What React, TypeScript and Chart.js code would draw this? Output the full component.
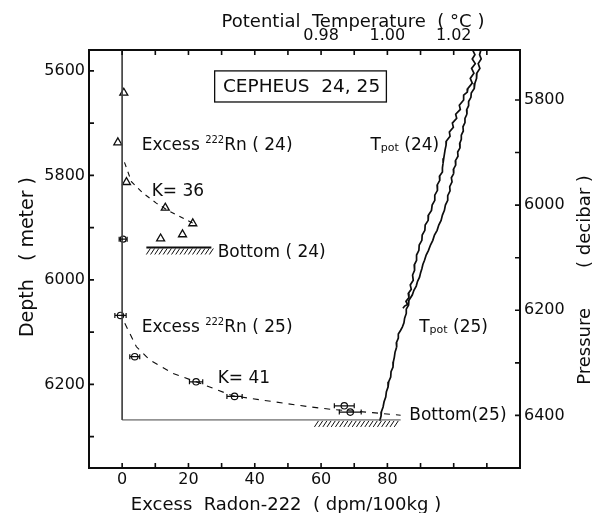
import React, { useEffect, useRef } from "react";
import { Chart, registerables } from "chart.js";

Chart.register(...registerables);

const FONT = '"DejaVu Sans", sans-serif';
const INK = "#0d0d0d";

// ---- Excess 222Rn, CEPHEUS 24 (triangles) ----
const rn24Depth = [5642, 5737, 5813, 5862, 5892, 5913, 5921];
const rn24Excess = [0.5, -1.3, 1.3, 13, 21.3, 18.2, 11.6];
// single circle sample at the 24 bottom
const rn24CircDepth = [5922];
const rn24CircExcess = [0.3];
const rn24CircErr = [1.2];

// ---- Excess 222Rn, CEPHEUS 25 (circles with error bars) ----
const rn25Depth = [6068, 6147, 6195, 6223, 6241, 6253];
const rn25Excess = [-0.5, 3.8, 22.3, 33.9, 67, 68.8];
const rn25Err = [1.7, 1.5, 2.0, 2.3, 3.0, 3.3];

// ---- fitted diffusion profiles ----
const k36Excess = [0.7, 2.8, 6.3, 10.3, 14.3, 19.3, 21.5];
const k36Depth = [5775, 5812, 5834, 5853, 5869, 5885, 5892];
const k41Excess = [0.8, 4.3, 8.3, 15.3, 22.3, 33.4, 45.5, 56.6, 63.5, 75.5, 84];
const k41Depth = [6083, 6128, 6153, 6179, 6195, 6222, 6233, 6243, 6248, 6254, 6259];

// ---- sea floor ----
const bottom24Depth = 5938;
const bottom24Span = [7.3, 26.9];
const bottom25Depth = 6268;
const bottom25LineSpan = [0, 84];
const bottom25HatchSpan = [58, 83];
const depthTop = 5560;

// ---- potential temperature profiles (pressure in dbar, theta in degC) ----
const tpot24Pressure = [
  5705, 5714, 5722, 5731, 5740, 5749, 5759, 5768, 5778, 5785, 5791, 5800, 5810, 5818, 5827,
  5835, 5844, 5852, 5861, 5869, 5878, 5886, 5895, 5903, 5911, 5920, 5929, 5937, 5945, 5953,
  5962, 5972, 5981, 5991, 6000, 6010, 6019, 6029, 6038, 6048, 6057, 6067, 6076, 6086, 6095,
  6105, 6114, 6124, 6133, 6143, 6152, 6160, 6168, 6176, 6183, 6189, 6192, 6196,
];
const tpot24Theta = [
  1.0257, 1.0264, 1.0256, 1.0265, 1.0254, 1.0261, 1.025, 1.0256, 1.0243, 1.0241, 1.023, 1.023,
  1.0217, 1.022, 1.0206, 1.0209, 1.0196, 1.0199, 1.0187, 1.0189, 1.0178, 1.0177, 1.0174, 1.0172,
  1.017, 1.0168, 1.0166, 1.0166, 1.0157, 1.0158, 1.015, 1.0151, 1.0143, 1.0143, 1.0135, 1.0133,
  1.0124, 1.0123, 1.0114, 1.0113, 1.0105, 1.0104, 1.0096, 1.0095, 1.0088, 1.0088, 1.0081, 1.0082,
  1.0076, 1.0078, 1.0069, 1.0072, 1.0063, 1.0065, 1.0056, 1.0061, 1.0052, 1.0047,
];
const tpot25Pressure = [
  5705, 5714, 5722, 5731, 5740, 5749, 5759, 5768, 5778, 5787, 5795, 5803, 5811, 5819, 5827,
  5835, 5843, 5851, 5859, 5867, 5875, 5883, 5891, 5899, 5907, 5916, 5924, 5932, 5940, 5948,
  5956, 5965, 5973, 5982, 5991, 6000, 6010, 6019, 6029, 6038, 6048, 6057, 6067, 6076, 6086,
  6095, 6105, 6113, 6121, 6129, 6137, 6145, 6154, 6162, 6171, 6181, 6190, 6198, 6206, 6215,
  6224, 6232, 6238, 6245, 6253, 6262, 6270, 6280, 6289, 6298, 6308, 6317, 6327, 6336, 6346,
  6355, 6365, 6374, 6384, 6393, 6401, 6410,
];
const tpot25Theta = [
  1.0282, 1.0278, 1.0283, 1.0274, 1.0279, 1.027, 1.0269, 1.0264, 1.0262, 1.0253, 1.0252, 1.0245,
  1.0245, 1.0239, 1.024, 1.0234, 1.0234, 1.0228, 1.0229, 1.0223, 1.0223, 1.0218, 1.0219, 1.0212,
  1.0213, 1.0205, 1.0206, 1.0199, 1.02, 1.0193, 1.0195, 1.0188, 1.0189, 1.0182, 1.0182, 1.0175,
  1.0172, 1.0166, 1.0162, 1.0155, 1.015, 1.0142, 1.0137, 1.013, 1.0124, 1.0117, 1.0112, 1.0107,
  1.0104, 1.01, 1.0097, 1.0091, 1.0087, 1.008, 1.0075, 1.0065, 1.0064, 1.0057, 1.0057, 1.0052,
  1.005, 1.0045, 1.004, 1.0033, 1.0033, 1.0027, 1.0028, 1.0023, 1.0021, 1.0018, 1.0017, 1.0011,
  1.001, 1.0004, 1.0002, 0.9997, 0.9995, 0.999, 0.9987, 0.9982, 0.9981, 0.9977,
];

// ---- axes ----
const radonTicks = [0, 10, 20, 30, 40, 50, 60, 70, 80, 90, 100, 110];
const radonLabels = [0, 20, 40, 60, 80];
const tempTicks = [0.92, 0.93, 0.94, 0.95, 0.96, 0.97, 0.98, 0.99, 1.0, 1.01, 1.02, 1.03];
const tempLabels = [0.98, 1.0, 1.02];
const depthTicks = [5600, 5700, 5800, 5900, 6000, 6100, 6200, 6300];
const depthLabels = [5600, 5800, 6000, 6200];
const pressureTicks = [5800, 5900, 6000, 6100, 6200, 6300, 6400];
const pressureLabels = [5800, 6000, 6200, 6400];

const zip = (xs: number[], ys: number[]) => xs.map((x, i) => ({ x, y: ys[i] }));
const has = (list: number[], v: number) => list.some((l) => Math.abs(l - v) < 1e-6);

type Run = { t: string; s: number; dy?: number };
const drawRuns = (ctx: CanvasRenderingContext2D, x: number, y: number, runs: Run[]) => {
  let cx = x;
  ctx.textAlign = "left";
  ctx.textBaseline = "alphabetic";
  for (const r of runs) {
    ctx.font = `${r.s}px ${FONT}`;
    ctx.fillText(r.t, cx, y + (r.dy || 0));
    cx += ctx.measureText(r.t).width;
  }
};

// text labels placed in (excess radon, depth) coordinates
const annotations: { x: number; y: number; runs: Run[] }[] = [
  { x: 5.9, y: 5751, runs: [{ t: "Excess ", s: 17 }, { t: "222", s: 10, dy: -7 }, { t: "Rn ( 24)", s: 17 }] },
  { x: 8.9, y: 5839, runs: [{ t: "K= 36", s: 17 }] },
  { x: 28.8, y: 5956, runs: [{ t: "Bottom ( 24)", s: 17 }] },
  { x: 5.9, y: 6099, runs: [{ t: "Excess ", s: 17 }, { t: "222", s: 10, dy: -7 }, { t: "Rn ( 25)", s: 17 }] },
  { x: 28.8, y: 6197, runs: [{ t: "K= 41", s: 17 }] },
  { x: 74.9, y: 5751, runs: [{ t: "T", s: 17 }, { t: "pot", s: 11, dy: 1 }, { t: " (24)", s: 17 }] },
  { x: 89.6, y: 6099, runs: [{ t: "T", s: 17 }, { t: "pot", s: 11, dy: 1 }, { t: " (25)", s: 17 }] },
  { x: 86.6, y: 6268, runs: [{ t: "Bottom(25)", s: 17 }] },
];
const titleBox = { x0: 27.9, x1: 79.7, y0: 5600, y1: 5659.5, text: "CEPHEUS  24, 25" };

const innerTicks = {
  id: "innerTicks",
  afterDraw(chart: any) {
    const { ctx, chartArea: a } = chart;
    const { x, y, xT, yP } = chart.scales;
    const len = 5;
    ctx.save();
    ctx.strokeStyle = INK;
    ctx.lineWidth = 1.6;
    ctx.beginPath();
    for (const v of radonTicks) {
      const p = x.getPixelForValue(v);
      ctx.moveTo(p, a.bottom);
      ctx.lineTo(p, a.bottom - len);
    }
    for (const v of tempTicks) {
      const p = xT.getPixelForValue(v);
      ctx.moveTo(p, a.top);
      ctx.lineTo(p, a.top + len);
    }
    for (const v of depthTicks) {
      const p = y.getPixelForValue(v);
      ctx.moveTo(a.left, p);
      ctx.lineTo(a.left + len, p);
    }
    for (const v of pressureTicks) {
      const p = yP.getPixelForValue(v);
      ctx.moveTo(a.right, p);
      ctx.lineTo(a.right - len, p);
    }
    ctx.stroke();

    // axis titles
    ctx.fillStyle = INK;
    ctx.font = `18px ${FONT}`;
    ctx.textAlign = "center";
    ctx.textBaseline = "alphabetic";
    ctx.fillText("Potential  Temperature  ( °C )", 353, 27);
    ctx.fillText("Excess  Radon-222  ( dpm/100kg )", 286, 510);
    ctx.save();
    ctx.translate(33, 257);
    ctx.rotate(-Math.PI / 2);
    ctx.font = `19px ${FONT}`;
    ctx.fillText("Depth   ( meter )", 0, 0);
    ctx.restore();
    ctx.save();
    ctx.translate(590, 280);
    ctx.rotate(-Math.PI / 2);
    ctx.fillText("Pressure       ( decibar )", 0, 0);
    ctx.restore();
    ctx.restore();
  },
};

const marks = {
  id: "marks",
  afterDatasetsDraw(chart: any) {
    const { ctx } = chart;
    const { x, y } = chart.scales;
    const px = (v: number) => x.getPixelForValue(v);
    const py = (v: number) => y.getPixelForValue(v);
    ctx.save();
    ctx.strokeStyle = INK;
    ctx.fillStyle = INK;

    // horizontal error bars
    const bars = (xs: number[], ys: number[], es: number[]) => {
      ctx.lineWidth = 1.2;
      ctx.beginPath();
      xs.forEach((v, i) => {
        const yy = py(ys[i]);
        const a = px(v - es[i]);
        const b = px(v + es[i]);
        ctx.moveTo(a, yy);
        ctx.lineTo(b, yy);
        ctx.moveTo(a, yy - 2.5);
        ctx.lineTo(a, yy + 2.5);
        ctx.moveTo(b, yy - 2.5);
        ctx.lineTo(b, yy + 2.5);
      });
      ctx.stroke();
    };
    bars(rn25Excess, rn25Depth, rn25Err);
    bars(rn24CircExcess, rn24CircDepth, rn24CircErr);

    // hatching under the sea floor
    const hatch = (from: number, to: number, depth: number) => {
      const yy = py(depth);
      ctx.lineWidth = 1;
      ctx.beginPath();
      for (let p = px(from); p <= px(to); p += 4.2) {
        ctx.moveTo(p, yy + 7);
        ctx.lineTo(p + 4, yy + 1);
      }
      ctx.stroke();
    };
    hatch(bottom24Span[0], bottom24Span[1], bottom24Depth);
    hatch(bottom25HatchSpan[0], bottom25HatchSpan[1], bottom25Depth);

    // station box
    ctx.lineWidth = 1.3;
    const bx0 = px(titleBox.x0), bx1 = px(titleBox.x1);
    const by0 = py(titleBox.y0), by1 = py(titleBox.y1);
    ctx.strokeRect(bx0, by0, bx1 - bx0, by1 - by0);
    ctx.font = `18.5px ${FONT}`;
    ctx.textAlign = "center";
    ctx.textBaseline = "middle";
    ctx.fillText(titleBox.text, (bx0 + bx1) / 2 + 1, (by0 + by1) / 2 + 1);

    for (const a of annotations) drawRuns(ctx, px(a.x), py(a.y), a.runs);
    ctx.restore();
  },
};

const tickFont = { family: FONT, size: 16 };

export default function App() {
  const ref = useRef<HTMLCanvasElement>(null);
  useEffect(() => {
    if (!ref.current) return;
    Chart.defaults.font.family = FONT;
    Chart.defaults.color = INK;
    const line = (data: any[], extra: any = {}) => ({
      data,
      showLine: true,
      pointRadius: 0,
      borderColor: INK,
      borderWidth: 1,
      fill: false,
      ...extra,
    });
    const chart = new Chart(ref.current, {
      type: "scatter",
      data: {
        datasets: [
          line(
            [
              { x: 0, y: depthTop },
              { x: 0, y: bottom25Depth },
            ],
            { borderColor: "#444" }
          ),
          line(
            [
              { x: bottom25LineSpan[0], y: bottom25Depth },
              { x: bottom25LineSpan[1], y: bottom25Depth },
            ],
            { borderColor: "#444" }
          ),
          line(
            [
              { x: bottom24Span[0], y: bottom24Depth },
              { x: bottom24Span[1], y: bottom24Depth },
            ],
            { borderWidth: 1.8 }
          ),
          line(zip(k36Excess, k36Depth), { borderDash: [5, 5], borderWidth: 1.1 }),
          line(zip(k41Excess, k41Depth), { borderDash: [6, 6], borderWidth: 1.1 }),
          {
            data: zip(rn24Excess, rn24Depth),
            pointStyle: "triangle",
            pointRadius: 4.6,
            borderColor: INK,
            borderWidth: 1.3,
            backgroundColor: "#fff",
          },
          {
            data: zip(rn24CircExcess, rn24CircDepth),
            pointStyle: "circle",
            pointRadius: 3,
            borderColor: INK,
            borderWidth: 1.2,
            backgroundColor: "rgba(0,0,0,0)",
          },
          {
            data: zip(rn25Excess, rn25Depth),
            pointStyle: "circle",
            pointRadius: 3.2,
            borderColor: INK,
            borderWidth: 1.2,
            backgroundColor: "rgba(0,0,0,0)",
          },
          line(zip(tpot24Theta, tpot24Pressure), { xAxisID: "xT", yAxisID: "yP", borderWidth: 1.7 }),
          line(zip(tpot25Theta, tpot25Pressure), { xAxisID: "xT", yAxisID: "yP", borderWidth: 1.7 }),
        ],
      },
      options: {
        animation: false,
        responsive: false,
        devicePixelRatio: 1,
        layout: { padding: 0 },
        plugins: { legend: { display: false }, tooltip: { enabled: false } },
        scales: {
          x: {
            type: "linear",
            position: "bottom",
            min: -10,
            max: 120,
            afterBuildTicks: (s: any) => {
              s.ticks = radonTicks.map((value) => ({ value }));
            },
            afterFit: (s: any) => {
              s.height = 45;
            },
            grid: { display: false, drawTicks: false },
            border: { display: true, color: INK, width: 2 },
            ticks: {
              autoSkip: false,
              maxRotation: 0,
              padding: 2,
              font: tickFont,
              color: INK,
              callback: (v: any) => (has(radonLabels, Number(v)) ? String(v) : ""),
            },
          },
          xT: {
            type: "linear",
            position: "top",
            min: 0.91,
            max: 1.04,
            afterBuildTicks: (s: any) => {
              s.ticks = tempTicks.map((value) => ({ value }));
            },
            afterFit: (s: any) => {
              s.height = 50;
            },
            grid: { display: false, drawTicks: false },
            border: { display: true, color: INK, width: 2 },
            ticks: {
              autoSkip: false,
              maxRotation: 0,
              padding: 5,
              font: tickFont,
              color: INK,
              callback: (v: any) => (has(tempLabels, Number(v)) ? Number(v).toFixed(2) : ""),
            },
          },
          y: {
            type: "linear",
            position: "left",
            reverse: true,
            min: 5560,
            max: 6360,
            afterBuildTicks: (s: any) => {
              s.ticks = depthTicks.map((value) => ({ value }));
            },
            afterFit: (s: any) => {
              s.width = 89;
            },
            grid: { display: false, drawTicks: false },
            border: { display: true, color: INK, width: 2 },
            ticks: {
              autoSkip: false,
              padding: 4,
              font: tickFont,
              color: INK,
              callback: (v: any) => (has(depthLabels, Number(v)) ? String(v) : ""),
            },
          },
          yP: {
            type: "linear",
            position: "right",
            reverse: true,
            min: 5705,
            max: 6500,
            afterBuildTicks: (s: any) => {
              s.ticks = pressureTicks.map((value) => ({ value }));
            },
            afterFit: (s: any) => {
              s.width = 81;
            },
            grid: { display: false, drawTicks: false },
            border: { display: true, color: INK, width: 2 },
            ticks: {
              autoSkip: false,
              padding: 4,
              font: tickFont,
              color: INK,
              callback: (v: any) => (has(pressureLabels, Number(v)) ? String(v) : ""),
            },
          },
        },
      },
      plugins: [marks, innerTicks],
    } as any);
    return () => chart.destroy();
  }, []);
  return (
    <div style={{ position: "absolute", left: 0, top: 0, width: 601, height: 513, background: "#fff" }}>
      <canvas ref={ref} width={601} height={513} style={{ display: "block", width: 601, height: 513 }} />
    </div>
  );
}
